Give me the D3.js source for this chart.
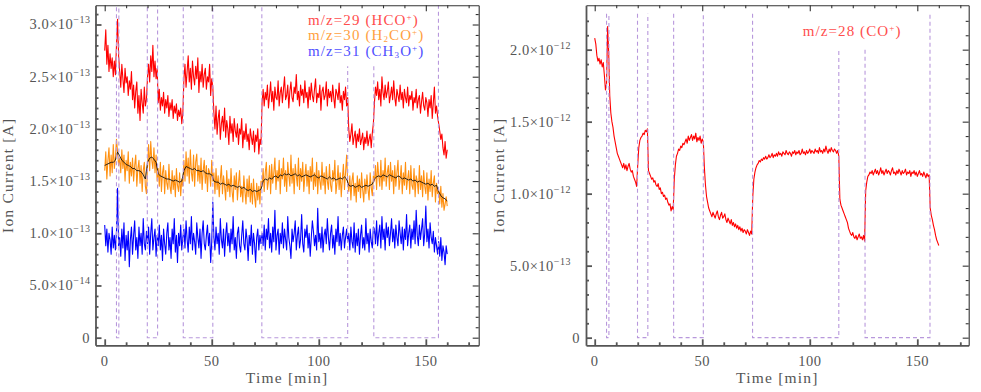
<!DOCTYPE html>
<html>
<head>
<meta charset="utf-8">
<script src="https://cdn.jsdelivr.net/npm/d3@7"></script>
<style>
  body { margin: 0; background: #fff; }
  svg { display: block; font-family: "Liberation Serif", "DejaVu Serif", serif; }
  .axis-lb path, .axis-lb line { stroke: #555; stroke-width: 1.8; }
  .axis-tr path, .axis-tr line { stroke: #333; stroke-width: 1.1; }
  .tick-label { fill: #555; font-size: 14.5px; letter-spacing: 0.5px; }
  .title { fill: #555; font-size: 15.5px; letter-spacing: 1.2px; }
  .legend { font-size: 15px; letter-spacing: 1.1px; }
</style>
</head>
<body>
<svg width="981" height="392"></svg>
<script>
// sampling of the traces, minutes
var sampleStep = 0.5,
    smoothStep = 1;

// m/z=29 (HCO+), units of 1e-15 A
var hco = [
  275, 295, 262, 280, 255, 272, 258, 268, 250, 265, 252,
  280, 305, 270,
  255, 240, 262, 248, 235, 258, 244, 250, 232, 246, 238, 255, 228, 242, 220, 236, 245, 215, 232, 208, 238, 225, 215, 240, 222, 228,
  250, 262, 245, 270, 255, 280, 250, 265, 248, 258,
  225, 238, 218, 230, 222, 235, 215, 228, 220, 232, 212, 225, 218, 228, 210, 222, 215, 224, 208, 218, 212, 220, 205, 215,
  248, 262, 240, 255, 270, 245, 258, 238, 265, 250, 242, 260, 248, 268, 235, 255, 245, 262, 240, 252, 258, 238, 250, 245, 262, 232, 248, 240,
  215, 200, 222, 195, 210, 218, 190, 205, 212, 198, 220, 192, 208, 200, 185, 212, 196, 205, 188, 210, 198, 192, 205, 185, 200, 195, 210, 182, 198, 190, 205, 188, 195, 180, 200, 192, 185, 198, 178, 194, 188, 200, 176, 190, 185,
  225, 238, 222, 235, 228, 242, 220, 232, 245, 226, 236, 218, 240, 230, 228, 246, 222, 235, 240, 225, 238, 250, 228, 232, 242, 220, 236, 245, 230, 226,
  240, 234, 252, 228, 236, 222, 242, 232, 238, 225, 246, 230, 235, 220, 240, 228, 244, 232, 226, 238, 248, 225, 234, 230, 242, 218, 236, 240, 228, 232,
  245, 222, 238, 230, 236, 226, 242, 230, 220, 238, 234, 228, 244, 225, 232, 218, 236, 228, 240, 222, 230,
  200, 188, 195, 205, 185, 192, 198, 182, 195, 188, 200, 185, 190, 196, 180, 192, 186, 198, 184, 190, 195, 182, 196, 205,
  225, 240, 232, 245, 228, 238, 222, 250, 235, 228, 242, 230, 236, 245, 225, 232, 240, 228, 246, 230, 222, 238, 232, 226, 242, 228, 235, 220, 238, 230,
  225, 240, 222, 232, 228, 236, 218, 230, 225, 238, 220, 228, 232, 215, 226, 235, 222, 218, 230, 225, 212, 228, 220, 232, 210, 225, 240, 215, 222, 212,
  205, 198, 190, 195, 182, 175, 188, 172, 180
];

// m/z=30 (H2CO+), units of 1e-15 A
var h2co = [
  160, 178, 152, 170, 182, 155, 175, 158, 185, 162, 172,
  190, 178, 165,
  172, 158, 180, 162, 175, 150, 170, 160, 178, 148, 168, 155, 172, 150, 165, 175, 145, 162, 170, 148, 165, 140, 160, 168, 145, 138,
  165, 185, 160, 188, 170, 162, 182, 158, 175, 150,
  162, 145, 168, 140, 158, 165, 138, 160, 148, 142, 166, 145, 138, 160, 142, 155, 135, 162, 146, 140, 158, 136, 152, 145,
  170, 150, 178, 155, 172, 148, 180, 158, 150, 175, 145, 168, 176, 150, 165, 148, 172, 142, 160, 170, 148, 165, 140, 162, 158, 145, 170, 150,
  158, 138, 162, 142, 155, 135, 152, 165, 138, 155, 145, 132, 160, 140, 152, 135, 162, 140, 130, 155, 142, 158, 132, 148, 160, 135, 145, 130, 155, 140, 128, 152, 135, 155, 130, 148, 128, 152, 135, 125, 148, 132, 145, 128, 150,
  145, 162, 140, 158, 168, 142, 150, 165, 138, 166, 148, 158, 172, 142, 160, 150, 170, 138, 162, 152, 172, 145, 160, 140, 168, 155, 145, 175, 148, 162,
  138, 166, 155, 145, 172, 142, 162, 150, 168, 140, 155, 166, 145, 160, 138, 164, 150, 172, 142, 158, 145, 168, 138, 160, 150, 142, 168, 146, 158, 138,
  164, 150, 142, 166, 146, 140, 160, 150, 170, 138, 148, 165, 142, 158, 135, 152, 166, 142, 158, 175, 148,
  140, 155, 132, 150, 158, 136, 148, 130, 155, 140, 152, 134, 158, 142, 130, 152, 138, 156, 142, 132, 158, 144, 136, 155,
  150, 165, 142, 168, 155, 145, 170, 142, 160, 150, 172, 145, 158, 165, 142, 168, 150, 160, 138, 165, 145, 158, 170, 142, 152, 165, 138, 158, 146, 168,
  142, 152, 160, 138, 165, 146, 142, 162, 135, 155, 150, 138, 165, 142, 155, 135, 160, 145, 138, 158, 132, 152, 140, 160, 135, 148, 155, 130, 148, 138,
  142, 128, 145, 125, 138, 122, 128, 135, 126
];

// smoothed m/z=30 trace (black), one value per minute
var h2coSmooth = [
  165, 166, 167, 168, 168, 170, 178, 174, 170, 168,
  166, 165, 164, 162, 162, 160, 160, 159, 156, 152,
  168, 172, 173, 171, 168, 157, 155, 154, 153, 152,
  152, 151, 150, 151, 150, 149, 150, 160, 164, 163,
  162, 161, 162, 160, 160, 159, 160, 158, 157, 157,
  156, 150, 149, 149, 147, 148, 147, 146, 147, 145,
  146, 145, 144, 145, 143, 144, 142, 141, 142, 140,
  141, 140, 141, 142, 150, 152, 151, 153, 152, 154,
  155, 153, 156, 155, 157, 156, 157, 155, 156, 157,
  155, 156, 154, 155, 156, 155, 154, 155, 156, 154,
  153, 155, 154, 153, 152, 154, 152, 153, 151, 152,
  153, 152, 154, 152, 146, 145, 146, 144, 145, 146,
  144, 145, 146, 145, 146, 147, 152, 154, 155, 154,
  156, 155, 154, 156, 155, 154, 153, 155, 154, 152,
  153, 152, 151, 152, 150, 151, 149, 150, 149, 148,
  147, 148, 146, 147, 145, 146, 140, 136, 134, 133,
  131
];

// m/z=31 (CH3O+), units of 1e-15 A
var ch3o = [
  108, 88, 104, 82, 100, 94, 80, 106, 86, 98, 84,
  102, 143, 88,
  96, 78, 104, 86, 110, 74, 98, 84, 102, 68, 94, 106, 80, 98, 112, 84, 96, 76, 106, 88, 100, 80, 114, 90, 84, 102,
  90, 106, 80, 100, 114, 84, 96, 104, 78, 98,
  88, 108, 84, 98, 74, 104, 90, 80, 100, 110, 84, 96, 76, 104, 90, 114, 82, 98, 72, 100, 88, 108, 84, 96,
  104, 86, 112, 94, 82, 106, 90, 116, 84, 100, 92, 80, 110, 96, 86, 104, 76, 100, 112, 90, 84, 98, 108, 88, 100, 72, 92, 130,
  96, 84, 106, 90, 100, 80, 114, 94, 86, 104, 78, 98, 110, 88, 100, 82, 104, 90, 116, 84, 96, 76, 100, 106, 88, 82, 98, 112, 90, 84, 104, 94, 74, 98, 88, 108, 80, 100, 90, 72, 96, 104, 84, 98, 90,
  100, 88, 108, 84, 104, 94, 114, 86, 100, 82, 106, 92, 122, 84, 98, 104, 80, 100, 90, 110, 86, 104, 94, 84, 116, 96, 88, 76, 104, 92,
  100, 112, 84, 98, 106, 86, 94, 118, 90, 82, 104, 96, 108, 86, 100, 78, 96, 112, 102, 88, 98, 84, 124, 92, 100, 86, 106, 82, 98, 104,
  90, 114, 96, 84, 100, 108, 86, 98, 80, 104, 92, 116, 88, 100, 84, 98, 106, 86, 96, 104, 92,
  100, 84, 106, 92, 86, 110, 82, 100, 88, 104, 80, 98, 108, 86, 96, 84, 114, 90, 100, 82, 104, 92, 86, 106,
  104, 90, 112, 88, 100, 108, 86, 116, 94, 104, 84, 110, 96, 106, 88, 100, 114, 92, 104, 86, 108, 96, 88, 112, 100, 90, 106, 84, 104, 94,
  118, 88, 100, 108, 86, 104, 94, 112, 90, 122, 98, 88, 108, 94, 104, 114, 88, 100, 126, 92, 104, 86, 110, 96, 90, 102, 82, 96, 88, 80,
  92, 78, 96, 74, 88, 82, 70, 88, 80
];

// m/z=28 (CO+), units of 1e-14 A
var co = [
  208, 204, 196, 192, 194, 190, 193, 188, 191, 182, 172,
  176, 216, 198,
  168, 156, 150, 146, 140, 136, 132, 128, 126, 124, 122, 120, 118, 121, 117, 120, 116, 119, 121, 117, 115, 116, 112, 110, 108, 105,
  120, 132, 137, 139, 140, 142, 141, 144, 143, 145,
  116, 114, 112, 110, 111, 108, 109, 106, 105, 107, 103, 104, 100, 101, 98, 99, 96, 97, 94, 92, 93, 88, 91, 89,
  110, 120, 126, 128, 131, 130, 133, 132, 135, 134, 136, 138, 135, 140, 137, 139, 141, 137, 140, 138, 142, 136, 139, 137, 140, 135, 138, 136,
  118, 106, 98, 94, 90, 88, 86, 84, 87, 85, 83, 86, 88, 84, 82, 85, 87, 83, 84, 86, 82, 80, 83, 81, 79, 82, 78, 80, 77, 79, 76, 78, 75, 77, 74, 76, 73, 75, 74, 72, 75, 73, 71, 74, 72,
  98, 110, 115, 118, 120, 121, 123, 122, 124, 123, 125, 124, 126, 124, 125, 127, 125, 126, 128, 125, 127, 126, 128, 126, 129, 127, 128, 126, 129, 128,
  127, 130, 128, 127, 129, 128, 126, 129, 128, 130, 127, 129, 128, 130, 127, 128, 131, 128, 129, 127, 130, 128, 129, 131, 128, 130, 129, 128, 131, 129,
  130, 128, 132, 129, 130, 128, 131, 129, 133, 130, 128, 131, 129, 132, 130, 129, 131, 130, 128, 130, 126,
  96, 92, 90, 88, 86, 84, 82, 80, 76, 74, 72, 71, 73, 70, 69, 71, 68, 70, 72, 69, 70, 68, 71, 67,
  102, 108, 112, 113, 115, 114, 116, 113, 115, 117, 114, 116, 113, 115, 118, 114, 116, 113, 115, 117, 114, 116, 115, 113, 116, 118, 114, 115, 113, 116,
  114, 117, 115, 113, 116, 114, 115, 117, 113, 115, 114, 116, 112, 115, 114, 116, 113, 115, 112, 114, 116, 113, 114, 112, 115, 113, 111, 114, 112, 113,
  90, 85, 82, 78, 75, 71, 68, 66, 64
];

// gas-on windows [start, end] in minutes
var windows = [[5.5, 6.6], [19.9, 24.7], [36.7, 50.5], [73.4, 113.5], [125.7, 155.9]];

var xMajor = [0, 50, 100, 150],
    xMinor = [10, 20, 30, 40, 60, 70, 80, 90, 110, 120, 130, 140, 160, 170],
    xLabels = ["0", "50", "100", "150"];

var leftYMajor = [0, 50, 100, 150, 200, 250, 300],
    leftYMinor = [10, 20, 30, 40, 60, 70, 80, 90, 110, 120, 130, 140, 160, 170, 180, 190, 210, 220, 230, 240, 260, 270, 280, 290, 310],
    leftYLabels = [["0", ""], ["5.0", "\u221214"], ["1.0", "\u221213"], ["1.5", "\u221213"], ["2.0", "\u221213"], ["2.5", "\u221213"], ["3.0", "\u221213"]];

var rightYMajor = [0, 50, 100, 150, 200],
    rightYMinor = [10, 20, 30, 40, 60, 70, 80, 90, 110, 120, 130, 140, 160, 170, 180, 190, 210, 220],
    rightYLabels = [["0", ""], ["5.0", "\u221213"], ["1.0", "\u221212"], ["1.5", "\u221212"], ["2.0", "\u221212"]];

// legend text pieces: [text, "" | "sub" | "sup"]
var leftLegend = [
  [["m/z=29 (HCO", ""], ["+", "sup"], [")", ""]],
  [["m/z=30 (H", ""], ["2", "sub"], ["CO", ""], ["+", "sup"], [")", ""]],
  [["m/z=31 (CH", ""], ["3", "sub"], ["O", ""], ["+", "sup"], [")", ""]]
];
var rightLegend = [
  [["m/z=28 (CO", ""], ["+", "sup"], [")", ""]]
];

var svg = d3.select("svg");

function addAxis(g, axis, cls, transform, major, minor) {
  var a = g.append("g").attr("class", cls).attr("transform", transform);
  a.call(axis.tickValues(major).tickSizeInner(-6).tickSizeOuter(0).tickFormat(""));
  var m = g.append("g").attr("class", cls).attr("transform", transform);
  m.call(axis.tickValues(minor).tickSizeInner(-3).tickSizeOuter(0).tickFormat(""));
  m.select(".domain").remove();
}

function drawPanel(p) {
  var g = svg.append("g").attr("transform", "translate(" + p.left + "," + p.top + ")");
  var x = d3.scaleLinear().domain(p.xDomain).range([0, p.width]);
  var y = d3.scaleLinear().domain(p.yDomain).range([p.height, 0]);

  g.append("defs").append("clipPath")
      .attr("id", p.id)
    .append("rect")
      .attr("width", p.width)
      .attr("height", p.height);

  var plot = g.append("g").attr("clip-path", "url(#" + p.id + ")");

  p.series.forEach(function(s) {
    var line = d3.line()
        .x(function(d, i) { return x(i * s.step); })
        .y(function(d) { return y(d); });
    plot.append("path")
        .datum(s.values)
        .attr("d", line)
        .attr("fill", "none")
        .attr("stroke", s.color)
        .attr("stroke-width", s.width)
        .attr("stroke-linejoin", "round");
  });

  // dashed U-shaped markers of the gas windows
  windows.forEach(function(w, k) {
    var tops = p.windowTops[k];
    plot.append("path")
        .attr("d", d3.line()([[x(w[0]), y(tops[0])], [x(w[0]), y(0)], [x(w[1]), y(0)], [x(w[1]), y(tops[1])]]))
        .attr("fill", "none")
        .attr("stroke", "#b898dc")
        .attr("stroke-width", 1.1)
        .attr("stroke-dasharray", "4,3");
  });

  addAxis(g, d3.axisBottom(x), "axis-lb", "translate(0," + p.height + ")", xMajor, xMinor);
  addAxis(g, d3.axisTop(x), "axis-tr", null, xMajor, xMinor);
  addAxis(g, d3.axisRight(y), "axis-tr", "translate(" + p.width + ",0)", p.yMajor, p.yMinor);
  addAxis(g, d3.axisLeft(y), "axis-lb", null, p.yMajor, p.yMinor);

  xMajor.forEach(function(v, i) {
    g.append("text")
        .attr("class", "tick-label")
        .attr("x", x(v))
        .attr("y", p.height + 20.7)
        .attr("text-anchor", "middle")
        .text(xLabels[i]);
  });

  p.yMajor.forEach(function(v, i) {
    var lab = p.yLabels[i];
    var t = g.append("text")
        .attr("class", "tick-label")
        .attr("x", lab[1] ? -p.labelGap : -p.zeroGap)
        .attr("y", y(v))
        .attr("dy", "0.34em")
        .attr("text-anchor", "end");
    t.append("tspan").text(lab[0]);
    if (lab[1]) {
      t.append("tspan").text("\u00D710");
      t.append("tspan").attr("dy", -6).attr("font-size", "10px").text(lab[1]);
    }
  });

  g.append("text")
      .attr("class", "title")
      .attr("x", p.width / 2)
      .attr("y", p.height + 37.7)
      .attr("text-anchor", "middle")
      .text("Time [min]");

  g.append("text")
      .attr("class", "title")
      .attr("transform", "translate(" + p.yTitleX + "," + (p.height / 2) + ") rotate(-90)")
      .attr("dy", "0.35em")
      .attr("text-anchor", "middle")
      .text("Ion Current [A]");

  p.legend.forEach(function(parts, i) {
    var t = g.append("text")
        .attr("class", "legend")
        .attr("x", p.legendX)
        .attr("y", p.legendY + i * 15.5)
        .attr("fill", p.legendColors[i]);
    var shift = 0;
    parts.forEach(function(part) {
      var target = part[1] === "sup" ? -5 : part[1] === "sub" ? 2 : 0;
      var ts = t.append("tspan").attr("dy", target - shift).text(part[0]);
      if (part[1]) ts.attr("font-size", "9px");
      shift = target;
    });
  });
}

drawPanel({
  id: "clipL", left: 95.5, top: 5.3, width: 383.2, height: 340,
  xDomain: [-4.3, 174.7], yDomain: [-7.3, 318.4],
  yMajor: leftYMajor, yMinor: leftYMinor, yLabels: leftYLabels,
  labelGap: 5, zeroGap: 5.5, yTitleX: -87.5,
  series: [
    { values: hco, step: sampleStep, color: "#ff0000", width: 1.1 },
    { values: h2co, step: sampleStep, color: "#ff9010", width: 1.1 },
    { values: h2coSmooth, step: smoothStep, color: "#111", width: 0.9 },
    { values: ch3o, step: sampleStep, color: "#0000ff", width: 1.1 }
  ],
  windowTops: [[330, 330], [330, 330], [330, 330], [330, 260], [260, 330]],
  legend: leftLegend, legendColors: ["#ff4d4d", "#ffa040", "#5050ff"],
  legendX: 212.5, legendY: 19.7
});

drawPanel({
  id: "clipR", left: 586, top: 5.3, width: 382.7, height: 340,
  xDomain: [-4.05, 173.9], yDomain: [-5.3, 230.8],
  yMajor: rightYMajor, yMinor: rightYMinor, yLabels: rightYLabels,
  labelGap: 15, zeroGap: 6, yTitleX: -87,
  series: [
    { values: co, step: sampleStep, color: "#ff0000", width: 1.1 }
  ],
  windowTops: [[225, 225], [225, 225], [225, 225], [225, 200], [200, 225]],
  legend: rightLegend, legendColors: ["#ff4d4d"],
  legendX: 216.7, legendY: 30.7
});
</script>
</body>
</html>
